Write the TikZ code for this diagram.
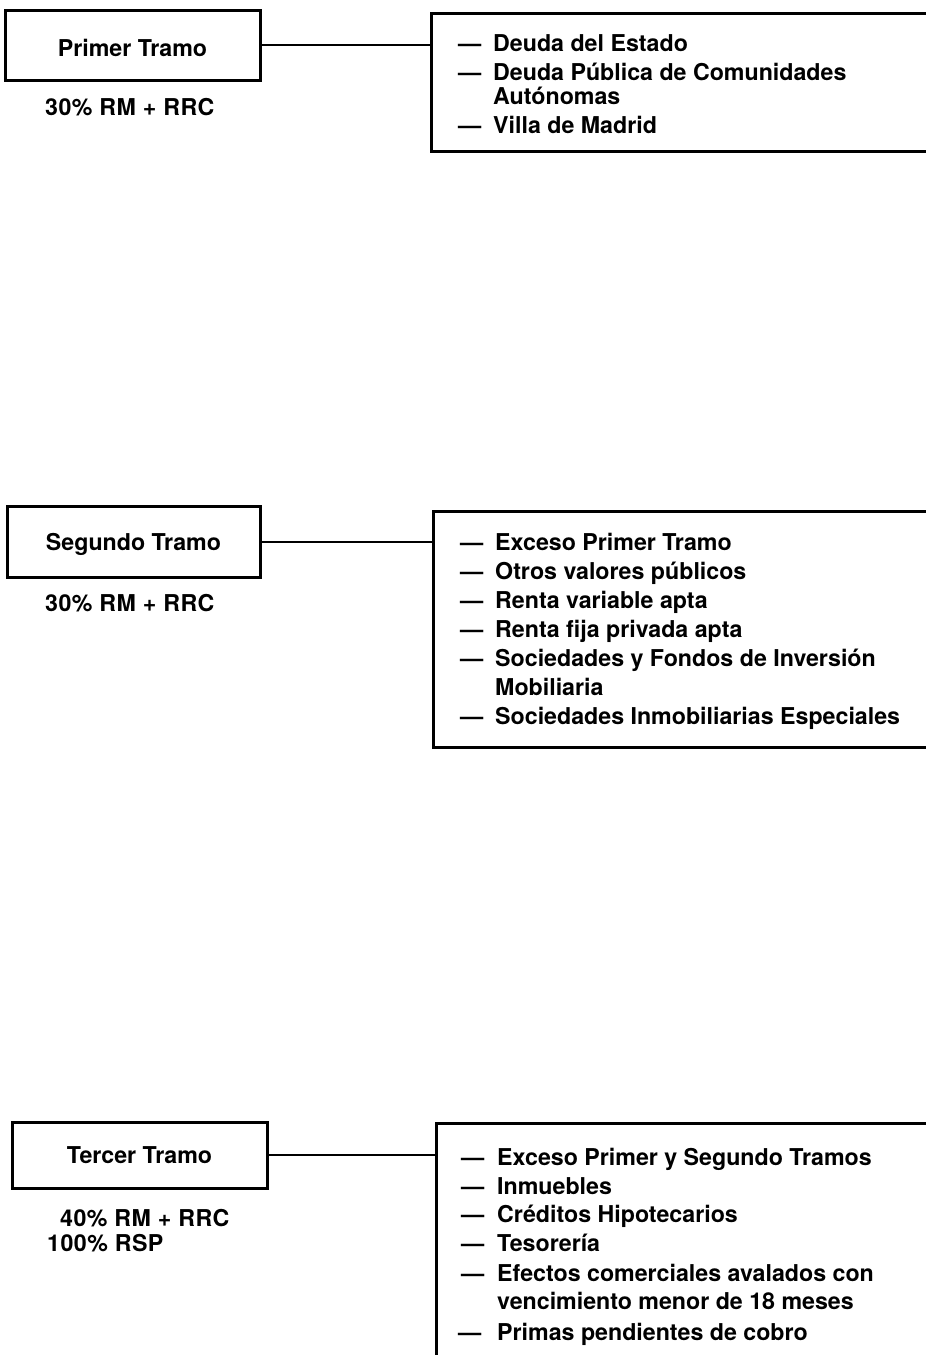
\documentclass[tikz,border=0pt]{standalone}
\usepackage{fontspec}
\setmainfont{TeX Gyre Heros}
\begin{document}
\begin{tikzpicture}[x=1pt,y=-1pt,
  every node/.style={font=\bfseries\fontsize{23.2}{27}\selectfont, inner sep=0pt, text height=17pt, text depth=0pt},
  tramo/.style={draw, line width=3pt, minimum width=#1, minimum height=70pt, align=center},
  lista/.style={draw, line width=3pt, anchor=north west, minimum width=700pt},
  dashnode/.style={anchor=west},
  itemtext/.style={anchor=west},
  label/.style={anchor=west, font=\bfseries\fontsize{23.2}{27}\selectfont\addfontfeature{LetterSpace=2}},
  conn/.style={line width=2.6pt}
]
\useasboundingbox (0,0) rectangle (926,1355);

% ---------- Primer Tramo ----------
\node[tramo=255pt, minimum height=70pt, text height=22pt] (l1) at (132.5,45) {Primer Tramo};
\node[label] (p1) at (45,107) {30\% RM + RRC};
\node[lista, minimum height=138pt] (r1) at (430,12) {};
\draw[conn] (l1.east) -- (l1.east -| r1.west);
\node[dashnode] (d11) at (458,43) {---};
\node[itemtext] (t11) at (493,43) {Deuda del Estado};
\node[dashnode] (d12) at (458,72) {---};
\node[itemtext] (t12) at (493,72) {Deuda Pública de Comunidades};
\node[itemtext] (t13) at (493,96) {Autónomas};
\node[dashnode] (d14) at (458,125) {---};
\node[itemtext] (t14) at (493,125) {Villa de Madrid};

% ---------- Segundo Tramo ----------
\node[tramo=253pt, minimum height=71pt] (l2) at (133.5,542) {Segundo Tramo};
\node[label] (p2) at (45,603) {30\% RM + RRC};
\node[lista, minimum height=236pt] (r2) at (432,510) {};
\draw[conn] (l2.east) -- (l2.east -| r2.west);
\node[dashnode] (d21) at (460,542) {---};
\node[itemtext] (t21) at (495,542) {Exceso Primer Tramo};
\node[dashnode] (d22) at (460,571) {---};
\node[itemtext] (t22) at (495,571) {Otros valores públicos};
\node[dashnode] (d23) at (460,600) {---};
\node[itemtext] (t23) at (495,600) {Renta variable apta};
\node[dashnode] (d24) at (460,629) {---};
\node[itemtext] (t24) at (495,629) {Renta fija privada apta};
\node[dashnode] (d25) at (460,658) {---};
\node[itemtext] (t25) at (495,658) {Sociedades y Fondos de Inversión};
\node[itemtext] (t26) at (495,687) {Mobiliaria};
\node[dashnode] (d27) at (460,716) {---};
\node[itemtext] (t27) at (495,716) {Sociedades Inmobiliarias Especiales};

% ---------- Tercer Tramo ----------
\node[tramo=255pt, minimum height=66pt] (l3) at (139.5,1155) {Tercer Tramo};
\node[label] (p3) at (60,1218) {40\% RM + RRC};
\node[label] (p4) at (47,1243) {100\% RSP};
\node[lista, minimum height=300pt] (r3) at (435,1122) {};
\draw[conn] (l3.east) -- (l3.east -| r3.west);
\node[dashnode] (d31) at (461,1157) {---};
\node[itemtext] (t31) at (497,1157) {Exceso Primer y Segundo Tramos};
\node[dashnode] (d32) at (461,1186) {---};
\node[itemtext] (t32) at (497,1186) {Inmuebles};
\node[dashnode] (d33) at (461,1214) {---};
\node[itemtext] (t33) at (497,1214) {Créditos Hipotecarios};
\node[dashnode] (d34) at (461,1243) {---};
\node[itemtext] (t34) at (497,1243) {Tesorería};
\node[dashnode] (d35) at (461,1273) {---};
\node[itemtext] (t35) at (497,1273) {Efectos comerciales avalados con};
\node[itemtext] (t36) at (497,1301) {vencimiento menor de 18 meses};
\node[dashnode] (d37) at (458,1332) {---};
\node[itemtext] (t37) at (497,1332) {Primas pendientes de cobro};
\end{tikzpicture}
\end{document}
